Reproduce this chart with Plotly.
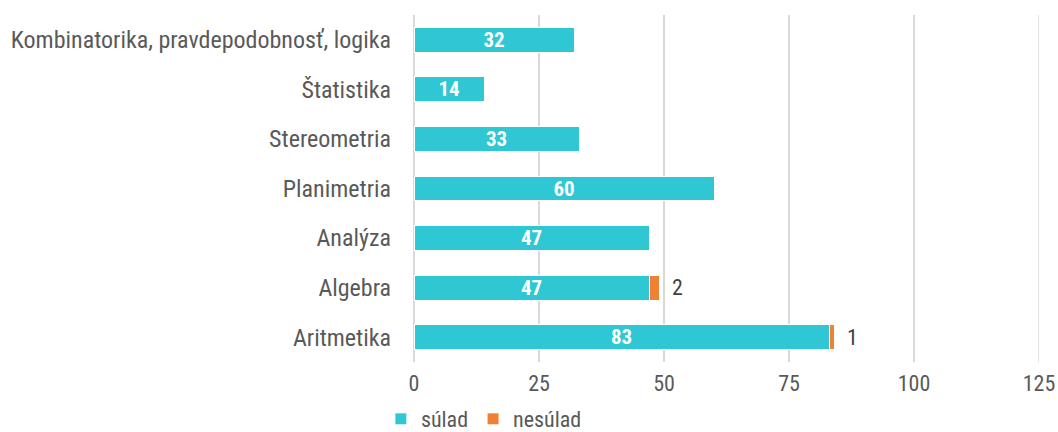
import plotly.graph_objects as go

categories = ["Aritmetika", "Algebra", "Analýza", "Planimetria", "Stereometria",
              "Štatistika", "Kombinatorika, pravdepodobnosť, logika"]
sulad = [83, 47, 47, 60, 33, 14, 32]
nesulad = [1, 2, 0, 0, 0, 0, 0]
x_ticks = [0, 25, 50, 75, 100, 125]

FONT = "Roboto Condensed, Roboto, sans-serif"
TEAL = "#2EC7D3"
ORANGE = "#F08133"
GRAY = "#595959"
GRID = "#D9D9D9"

fig = go.Figure()
fig.add_trace(go.Bar(
    y=categories, x=sulad, orientation="h", name="súlad",
    marker=dict(color=TEAL, line=dict(color="white", width=1)),
    text=[str(v) for v in sulad], textposition="inside", insidetextanchor="middle",
    textangle=0,
    textfont=dict(family=FONT, size=21, color="white", weight="bold"),
    cliponaxis=False,
))
fig.add_trace(go.Bar(
    y=categories, x=nesulad, orientation="h", name="nesúlad",
    marker=dict(color=ORANGE, line=dict(color="white", width=1)),
    text=["  " + str(v) if v else "" for v in nesulad], textposition="outside",
    textangle=0,
    textfont=dict(family=FONT, size=22, color="#404040"),
    cliponaxis=False,
))

# gridline at the right end of the axis (plotly omits the one on the edge)
fig.add_shape(type="line", xref="x", yref="paper", x0=x_ticks[-1], x1=x_ticks[-1],
              y0=0, y1=1, line=dict(color=GRID, width=1.5), layer="below")

fig.update_layout(
    barmode="stack",
    bargap=0.5,
    width=1058, height=432,
    margin=dict(l=414, r=19, t=15, b=70, autoexpand=False),
    plot_bgcolor="white", paper_bgcolor="white",
    font=dict(family=FONT, size=22, color=GRAY),
    uniformtext=dict(mode="show", minsize=21),
    legend=dict(orientation="h", xref="container", yref="container",
                x=0.360, xanchor="left", y=0.03, yanchor="middle",
                font=dict(size=22, color=GRAY), itemwidth=30, traceorder="normal",
                tracegroupgap=0),
    showlegend=True,
)
fig.update_xaxes(range=[0, 125], tickvals=x_ticks, showgrid=True, gridcolor=GRID,
                 gridwidth=1.5, zeroline=True, zerolinecolor=GRID, zerolinewidth=1.5,
                 showline=False, ticks="",
                 tickfont=dict(size=22, color=GRAY), ticklabelstandoff=6,
                 automargin=False)
fig.update_yaxes(showgrid=False, showline=False, ticks="", ticklabelstandoff=22,
                 tickfont=dict(size=24, color=GRAY), automargin=False)

fig.write_html(
    "out.html",
    config={"displayModeBar": False},
    post_script="document.body.style.margin='0';document.body.style.overflow='hidden';",
)
